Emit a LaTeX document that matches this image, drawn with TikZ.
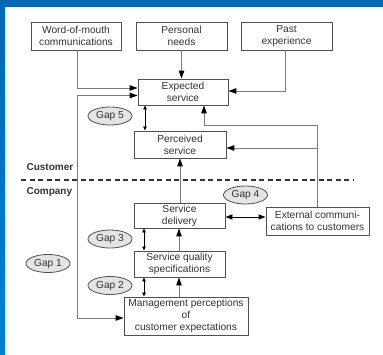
\documentclass[tikz,border=0pt]{standalone}
\usepackage{fontspec}
\setmainfont{Liberation Sans}
\usetikzlibrary{arrows.meta,shapes.geometric}
\definecolor{frameblue}{HTML}{0068B4}
\definecolor{frameblueb}{HTML}{0080D4}
\definecolor{linegray}{HTML}{7A7A7A}
\definecolor{boxgray}{HTML}{505050}
\definecolor{txtgray}{HTML}{333333}
\definecolor{gapfill}{HTML}{E4E4E4}
\begin{document}
\begin{tikzpicture}[x=1pt,y=-1pt,
  font=\fontsize{10.2}{12}\selectfont,
  every node/.style={text=txtgray},
  stagebox/.style={draw=boxgray,line width=0.9pt,fill=white,align=center,inner sep=0pt,minimum width=#1},
  gap/.style={ellipse,draw=boxgray,line width=0.8pt,fill=gapfill,minimum width=44pt,minimum height=18pt,inner sep=0pt},
  flow/.style={draw=linegray,line width=1pt,-{Triangle[length=8pt,width=5.5pt,color=black]}},
  both/.style={draw=black,line width=0.8pt,{Triangle[length=4pt,width=3.5pt]}-{Triangle[length=4pt,width=3.5pt]}},
  both2/.style={draw=black,line width=0.9pt,{Triangle[length=7pt,width=5pt]}-{Triangle[length=7pt,width=5pt]}},
  side/.style={font=\fontsize{10}{12}\selectfont\bfseries}
]
\useasboundingbox (0,0) rectangle (383,354);
\fill[white] (0,0) rectangle (383,354);
% frame bands
\fill[frameblue] (0,0) rectangle (383,7);
\shade[top color=frameblue,bottom color=frameblueb] (0,0) rectangle (5,354);

% stage boxes
\node[stagebox=90pt,minimum height=28pt] (wom) at (76,36) {Word-of-mouth\\communications};
\node[stagebox=91pt,minimum height=28pt] (pn) at (181.5,36) {Personal\\needs};
\node[stagebox=91pt,minimum height=28pt] (pe) at (286.5,36) {Past\\experience};
\node[stagebox=90pt,minimum height=26pt] (es) at (183,92) {Expected\\service};
\node[stagebox=92pt,minimum height=27pt] (ps) at (180,144.5) {Perceived\\service};
\node[stagebox=91pt,minimum height=25pt] (sd) at (179.5,215.5) {Service\\delivery};
\node[stagebox=103pt,minimum height=28pt] (ec) at (317.5,221) {External communi-\\cations to customers};
\node[stagebox=91pt,minimum height=26pt] (sq) at (179.5,264) {Service quality\\specifications};
\node[stagebox=124pt,minimum height=38pt] (mp) at (186,316) {Management perceptions\\of\\customer expectations};

% gap labels
\node[gap] (g5) at (110,116) {Gap 5};
\node[gap] (g4) at (245.5,195) {Gap 4};
\node[gap] (g3) at (110,239) {Gap 3};
\node[gap] (g1) at (48,263.5) {Gap 1};
\node[gap] (g2) at (110,285.5) {Gap 2};

% customer / company divide
\node[side,anchor=west] (cust) at (23,167) {Customer};
\node[side,anchor=west] (comp) at (23,192) {Company};
\coordinate (dl) at (21,180);
\coordinate (dr) at (353,180);
\draw[black!80,line width=1.3pt,dash pattern=on 5pt off 3.5pt] (dl) -- (dr);

% influences on expectations
\coordinate (womc) at (77,88);
\draw[flow] (wom.south -| womc) -- (womc) -- (es.west |- womc);
\draw[flow] (pn.south) -- (es.north -| pn.south);
\coordinate (pec) at (285,91);
\draw[flow] (pe.south -| pec) -- (pec) -- (es.east |- pec);

% gap 1 loop
\coordinate (g1top) at (77,95.5);
\coordinate (g1bot) at (77,318);
\draw[draw=linegray,line width=1pt] (g1top) -- (g1bot);
\draw[flow] (g1top) -- (es.west |- g1top);
\draw[flow] (g1bot) -- (mp.west |- g1bot);

% external communications feedback
\coordinate (ecup) at (317,125);
\coordinate (ecturn) at (204,125);
\coordinate (ecmid) at (317,148);
\draw[flow] (ec.north -| ecup) -- (ecup) -- (ecturn) -- (es.south -| ecturn);
\draw[flow] (ecmid) -- (ps.east |- ecmid);

% delivery chain
\coordinate (chainA) at (180,0);
\coordinate (chainB) at (179,0);
\draw[flow] (sd.north -| chainA) -- (ps.south -| chainA);
\draw[flow] (sq.north -| chainB) -- (sd.south -| chainB);
\draw[flow] (mp.north -| chainB) -- (sq.south -| chainB);

% gap markers
\coordinate (gx5) at (145,0);
\coordinate (gx) at (144,0);
\coordinate (gy4) at (0,217);
\draw[both] (es.south -| gx5) -- (ps.north -| gx5);
\draw[both] (sd.south -| gx) -- (sq.north -| gx);
\draw[both] (sq.south -| gx) -- (mp.north -| gx);
\draw[both2] (sd.east |- gy4) -- (ec.west |- gy4);
\end{tikzpicture}
\end{document}
